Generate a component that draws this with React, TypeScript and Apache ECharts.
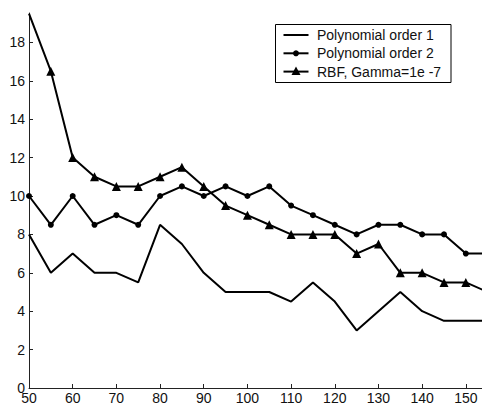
import React, { useEffect, useRef } from "react";
import * as echarts from "echarts";

const xValues = [50, 55, 60, 65, 70, 75, 80, 85, 90, 95, 100, 105, 110, 115, 120, 125, 130, 135, 140, 145, 150, 155];
const poly1 = [8, 6, 7, 6, 6, 5.5, 8.5, 7.5, 6, 5, 5, 5, 4.5, 5.5, 4.5, 3, 4, 5, 4, 3.5, 3.5, 3.5];
const poly2 = [10, 8.5, 10, 8.5, 9, 8.5, 10, 10.5, 10, 10.5, 10, 10.5, 9.5, 9, 8.5, 8, 8.5, 8.5, 8, 8, 7, 7];
const rbf = [19.5, 16.5, 12, 11, 10.5, 10.5, 11, 11.5, 10.5, 9.5, 9, 8.5, 8, 8, 8, 7, 7.5, 6, 6, 5.5, 5.5, 5];
const seriesNames = ["Polynomial order 1", "Polynomial order 2", "RBF, Gamma=1e -7"];
const xTicks = [50, 60, 70, 80, 90, 100, 110, 120, 130, 140, 150];
const yTicks = [0, 2, 4, 6, 8, 10, 12, 14, 16, 18];

const FONT = "'Liberation Sans', Arial, sans-serif";
const INK = "#111";

export default function App() {
  const ref = useRef<HTMLDivElement>(null);
  useEffect(() => {
    if (!ref.current) return;
    const chart = echarts.init(ref.current, null, { renderer: "svg" });
    const pts = (ys: number[]) => xValues.map((x, i) => [x, ys[i]]);
    const rbfData = xValues.map((x, i) =>
      i === 0 ? { value: [x, rbf[i]], symbol: "none" } : { value: [x, rbf[i]] }
    );

    // legend drawn with graphic elements
    const lgX = 275.5, lgY = 24.5, lgW = 175.5, lgH = 58;
    const rowY = [35, 53.3, 71.6];
    const lineX0 = 283.5, lineX1 = 308.5, markX = 296, textX = 317;
    const legendEls: any[] = [
      {
        type: "rect",
        shape: { x: lgX, y: lgY, width: lgW, height: lgH },
        style: { fill: "#fff", stroke: "#000", lineWidth: 1 },
        z: 100,
      },
    ];
    seriesNames.forEach((name, i) => {
      const y = rowY[i];
      legendEls.push({
        type: "line",
        shape: { x1: lineX0, y1: y, x2: lineX1, y2: y },
        style: { stroke: "#000", lineWidth: 2 },
        z: 101,
      });
      if (i === 1) {
        legendEls.push({
          type: "circle",
          shape: { cx: markX, cy: y, r: 3 },
          style: { fill: "#000" },
          z: 102,
        });
      }
      if (i === 2) {
        legendEls.push({
          type: "polygon",
          shape: { points: [[markX, y - 5], [markX - 4.5, y + 3.5], [markX + 4.5, y + 3.5]] },
          style: { fill: "#000" },
          z: 102,
        });
      }
      legendEls.push({
        type: "text",
        x: textX,
        y: y,
        style: {
          text: name,
          fontFamily: FONT,
          fontSize: 14,
          fill: INK,
          verticalAlign: "middle",
          align: "left",
        },
        z: 102,
      });
    });

    chart.setOption({
      animation: false,
      backgroundColor: "#fff",
      grid: { left: 29, top: 13, right: 0, bottom: 18, containLabel: false },
      graphic: legendEls,
      xAxis: {
        type: "value",
        min: 50,
        max: 153.7,
        splitLine: { show: false },
        axisLine: { onZero: false, lineStyle: { color: "#222", width: 1 } },
        axisTick: { inside: true, length: 4, customValues: xTicks, lineStyle: { color: "#222" } },
        axisLabel: {
          customValues: xTicks,
          margin: 3,
          fontFamily: FONT,
          fontSize: 14,
          color: INK,
        },
      },
      yAxis: {
        type: "value",
        min: 0,
        max: 19.53,
        splitLine: { show: false },
        axisLine: { show: true, onZero: false, lineStyle: { color: "#222", width: 1 } },
        axisTick: { show: true, inside: true, length: 4, customValues: yTicks, lineStyle: { color: "#222" } },
        axisLabel: {
          customValues: yTicks,
          margin: 4,
          fontFamily: FONT,
          fontSize: 14,
          color: INK,
        },
      },
      series: [
        {
          name: seriesNames[0],
          type: "line",
          data: pts(poly1),
          symbol: "none",
          lineStyle: { color: "#000", width: 2 },
          itemStyle: { color: "#000" },
        },
        {
          name: seriesNames[1],
          type: "line",
          data: pts(poly2),
          symbol: "circle",
          symbolSize: 6,
          lineStyle: { color: "#000", width: 2 },
          itemStyle: { color: "#000" },
        },
        {
          name: seriesNames[2],
          type: "line",
          data: rbfData,
          symbol: "triangle",
          symbolSize: 9,
          lineStyle: { color: "#000", width: 2 },
          itemStyle: { color: "#000" },
        },
      ],
    });
    return () => chart.dispose();
  }, []);
  return (
    <div
      ref={ref}
      style={{ position: "fixed", left: 0, top: 0, width: 482, height: 406, background: "#fff" }}
    />
  );
}
